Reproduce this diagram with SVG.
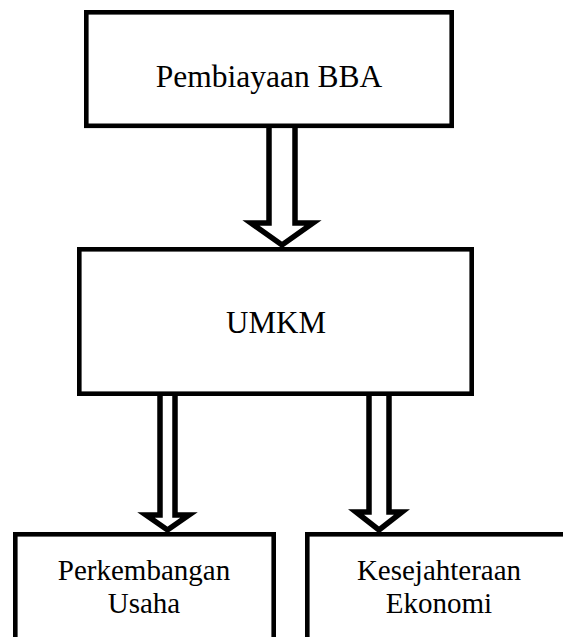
<svg xmlns="http://www.w3.org/2000/svg" width="563" height="637" viewBox="0 0 563 637">
<style>
.box{fill:#fff;stroke:#000;stroke-width:4.6;stroke-linejoin:miter}
.arr{fill:#fff;stroke:#000;stroke-width:5.5;stroke-linejoin:miter;stroke-miterlimit:10}
.t{fill:#000;text-anchor:middle}
</style>
<rect width="563" height="637" fill="#fff"/>
<g id="connectors">
<polygon class="arr" points="269,120 295,120 295,223 313,223 282,245 251,223 269,223"/>
<polygon class="arr" points="160,390 175,390 175,515 189,515 167.5,530 146,515 160,515"/>
<polygon class="arr" points="369,390 389,390 389,512 402,512 379,530 356,512 369,512"/>
</g>
<g font-family="Liberation Serif, DejaVu Serif, serif">
<g id="node-bba">
<rect class="box" x="86.3" y="12.3" width="365.4" height="113.5"/>
<text class="t" x="269" y="87" font-size="31.5">Pembiayaan BBA</text>
</g>
<g id="node-umkm">
<rect class="box" x="79.3" y="249.3" width="392.4" height="144.4"/>
<text class="t" x="276" y="333" font-size="31">UMKM</text>
</g>
<g id="node-usaha">
<rect class="box" x="15.3" y="534.3" width="258.4" height="140"/>
<text class="t" x="144" y="580" font-size="29">Perkembangan</text>
<text class="t" x="144" y="613" font-size="29">Usaha</text>
</g>
<g id="node-ekonomi">
<rect class="box" x="307.3" y="534.3" width="263.4" height="140"/>
<text class="t" x="439" y="580" font-size="29">Kesejahteraan</text>
<text class="t" x="439" y="613" font-size="29">Ekonomi</text>
</g>
</g>
</svg>
